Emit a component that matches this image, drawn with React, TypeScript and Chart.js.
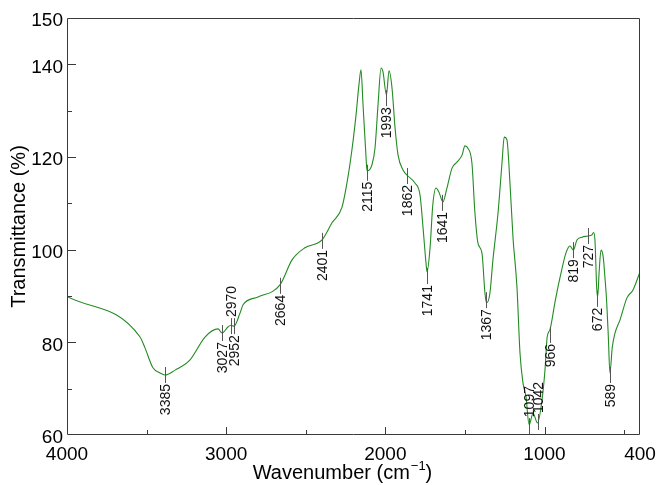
import React, { useEffect, useRef } from "react";
import { Chart, registerables } from "chart.js";

Chart.register(...registerables);

const wavenumbers = [4000, 3541, 3510, 3460, 3416, 3385, 3321, 3227, 3133, 3051, 3026, 2989, 2970, 2951, 2913, 2894, 2800, 2662, 2586, 2505, 2398, 2335, 2272, 2241, 2210, 2184, 2166, 2153, 2140, 2122, 2115, 2084, 2065, 2046, 2027, 2015, 1993, 1977, 1958, 1939, 1920, 1889, 1858, 1814, 1782, 1763, 1745, 1738, 1719, 1702, 1682, 1663, 1638, 1613, 1581, 1550, 1518, 1500, 1481, 1456, 1437, 1418, 1393, 1374, 1364, 1343, 1324, 1292, 1267, 1253, 1236, 1217, 1198, 1173, 1154, 1135, 1116, 1097, 1072, 1044, 1018, 997, 983, 966, 934, 903, 865, 840, 819, 796, 765, 727, 702, 692, 683, 672, 666, 656, 645, 631, 620, 609, 599, 589, 574, 557, 526, 482, 444, 400];

const transmittance = [89.9, 81.15, 78.8, 74.5, 73.4, 72.95, 74.0, 76.2, 81.15, 82.9, 82.0, 83.3, 83.7, 83.5, 86.3, 88.1, 89.8, 92.4, 97.8, 100.4, 102.1, 105.8, 109.2, 114.4, 121.5, 129.1, 135.5, 138.8, 131.2, 120.4, 117.0, 118.3, 121.9, 131.2, 139.2, 138.4, 133.4, 138.6, 134.9, 126.3, 120.4, 117.2, 115.9, 114.4, 111.8, 104.7, 97.3, 95.2, 100.4, 109.6, 113.3, 112.4, 110.3, 113.3, 117.6, 118.9, 120.4, 122.4, 121.9, 118.7, 107.9, 101.4, 99.3, 90.6, 88.5, 90.6, 97.8, 107.9, 118.7, 124.3, 123.7, 114.4, 102.7, 91.9, 77.7, 71.2, 68.2, 62.2, 64.7, 62.6, 66.9, 74.0, 81.2, 82.7, 88.7, 93.9, 99.3, 100.8, 99.9, 102.1, 102.7, 102.95, 103.2, 103.7, 102.1, 91.7, 89.8, 95.6, 99.9, 98.4, 93.9, 88.5, 81.2, 73.4, 79.0, 82.0, 84.8, 89.6, 91.3, 95.2];

const xTickValues = [4000, 3000, 2000, 1000, 400];
const xMajorMarks = [3000, 2000, 1000];
const xMinorMarks = [3500, 2500, 1500, 500];
const yTickValues = [60, 80, 100, 120, 140, 150];
const yMajorMarks = [80, 100, 120, 140];
const yMinorMarks = [70, 90, 110, 130];

const peakWavenumbers = [3385, 3027, 2970, 2952, 2664, 2401, 2115, 1993, 1862, 1741, 1641, 1367, 1097, 1042, 966, 819, 727, 672, 589];
const peakMarkerT = [72.95, 82.0, 83.5, 83.5, 92.2, 101.9, 116.6, 132.7, 115.9, 94.3, 110.1, 89.1, 61.9, 62.8, 81.6, 99.9, 102.95, 89.4, 72.95];
const peakLabelSide = ["below", "below", "above", "below", "below", "below", "below", "below", "below", "below", "below", "below", "above", "above", "below", "below", "below", "below", "below"];

const FONT = "'Liberation Sans', Arial, Helvetica, sans-serif";

const decorPlugin = {
  id: "decor",
  afterDatasetsDraw(chart: any) {
    const { ctx, chartArea, scales } = chart;
    const xs = scales.x;
    const ys = scales.y;
    const L = Math.round(chartArea.left);
    const R = Math.round(chartArea.right);
    const T = Math.round(chartArea.top);
    const B = Math.round(chartArea.bottom);
    ctx.save();
    // frame
    ctx.strokeStyle = "#3a3a3a";
    ctx.lineWidth = 1;
    ctx.beginPath();
    ctx.moveTo(L + 0.5, T + 0.5);
    ctx.lineTo(R - 0.5, T + 0.5);
    ctx.lineTo(R - 0.5, B - 0.5);
    ctx.lineTo(L + 0.5, B - 0.5);
    ctx.closePath();
    ctx.stroke();
    // tick marks (inward)
    ctx.beginPath();
    yMajorMarks.forEach((v) => {
      const py = Math.round(ys.getPixelForValue(v)) + 0.5;
      ctx.moveTo(L, py);
      ctx.lineTo(L + 9, py);
    });
    yMinorMarks.forEach((v) => {
      const py = Math.round(ys.getPixelForValue(v)) + 0.5;
      ctx.moveTo(L, py);
      ctx.lineTo(L + 5, py);
    });
    xMajorMarks.forEach((v) => {
      const px = Math.round(xs.getPixelForValue(v)) + 0.5;
      ctx.moveTo(px, B);
      ctx.lineTo(px, B - 8);
    });
    xMinorMarks.forEach((v) => {
      const px = Math.round(xs.getPixelForValue(v)) + 0.5;
      ctx.moveTo(px, B);
      ctx.lineTo(px, B - 5);
    });
    ctx.stroke();

    // peak annotations
    ctx.font = `14px ${FONT}`;
    ctx.fillStyle = "#111";
    ctx.textBaseline = "middle";
    ctx.strokeStyle = "#555";
    peakWavenumbers.forEach((wn, i) => {
      const px = Math.round(xs.getPixelForValue(wn)) + 0.5;
      const py = ys.getPixelForValue(peakMarkerT[i]);
      ctx.beginPath();
      ctx.moveTo(px, py - 8);
      ctx.lineTo(px, py + 8);
      ctx.stroke();
      ctx.save();
      if (peakLabelSide[i] === "below") {
        ctx.translate(px, py + 9);
        ctx.rotate(-Math.PI / 2);
        ctx.textAlign = "right";
      } else {
        ctx.translate(px, py - 9);
        ctx.rotate(-Math.PI / 2);
        ctx.textAlign = "left";
      }
      ctx.fillText(String(wn), 0, 1);
      ctx.restore();
    });

    // axis titles
    ctx.fillStyle = "#000";
    ctx.font = `20px ${FONT}`;
    ctx.save();
    ctx.translate(19, (T + B) / 2);
    ctx.rotate(-Math.PI / 2);
    ctx.textAlign = "center";
    ctx.textBaseline = "middle";
    ctx.fillText("Transmittance (%)", 0, 0);
    ctx.restore();

    const main = "Wavenumber (cm";
    const sup = "\u22121";
    const close = ")";
    ctx.textBaseline = "alphabetic";
    ctx.textAlign = "left";
    const baseY = 479;
    ctx.font = `20px ${FONT}`;
    const w1 = ctx.measureText(main).width;
    ctx.font = `13px ${FONT}`;
    const w2 = ctx.measureText(sup).width;
    ctx.font = `20px ${FONT}`;
    const w3 = ctx.measureText(close).width;
    const total = w1 + w2 + w3;
    let sx = 342 - total / 2;
    ctx.fillText(main, sx, baseY);
    sx += w1;
    ctx.font = `13px ${FONT}`;
    ctx.fillText(sup, sx + 1, baseY - 9);
    sx += w2 + 1;
    ctx.font = `20px ${FONT}`;
    ctx.fillText(close, sx, baseY);
    ctx.restore();
  },
};

export default function App() {
  const canvasRef = useRef<HTMLCanvasElement | null>(null);

  useEffect(() => {
    if (!canvasRef.current) return;
    const points = wavenumbers.map((w, i) => ({ x: w, y: transmittance[i] }));
    const chart = new Chart(canvasRef.current, {
      type: "line",
      data: {
        datasets: [
          {
            data: points,
            borderColor: "#228B22",
            borderWidth: 1.1,
            pointRadius: 0,
            fill: false,
            cubicInterpolationMode: "monotone",
          },
        ],
      },
      options: {
        responsive: false,
        animation: false,
        layout: { padding: { top: 18, right: 18, left: 0, bottom: 0 } },
        plugins: { legend: { display: false }, tooltip: { enabled: false } },
        scales: {
          x: {
            type: "linear",
            reverse: true,
            min: 400,
            max: 4000,
            grid: { display: false, drawTicks: false },
            border: { display: false },
            afterBuildTicks: (s: any) => {
              s.ticks = xTickValues.map((v) => ({ value: v }));
            },
            afterFit: (s: any) => {
              s.height = 50;
              s.paddingLeft = 0;
              s.paddingRight = 0;
            },
            ticks: {
              font: { family: FONT, size: 19 },
              color: "#000",
              padding: 8,
              maxRotation: 0,
              autoSkip: false,
              callback: (v: any) => String(v),
            },
          },
          y: {
            type: "linear",
            min: 60,
            max: 150,
            grid: { display: false, drawTicks: false },
            border: { display: false },
            afterBuildTicks: (s: any) => {
              s.ticks = yTickValues.map((v) => ({ value: v }));
            },
            afterFit: (s: any) => {
              s.width = 67;
              s.paddingTop = 0;
              s.paddingBottom = 0;
            },
            ticks: {
              font: { family: FONT, size: 19 },
              color: "#000",
              padding: 4,
              labelOffset: 3,
              autoSkip: false,
              callback: (v: any) => String(v),
            },
          },
        },
      },
      plugins: [decorPlugin],
    });
    return () => chart.destroy();
  }, []);

  return (
    <div style={{ position: "fixed", left: 0, top: 0, width: 658, height: 485, background: "#fff" }}>
      <canvas ref={canvasRef} width={658} height={485} style={{ display: "block" }} />
    </div>
  );
}
